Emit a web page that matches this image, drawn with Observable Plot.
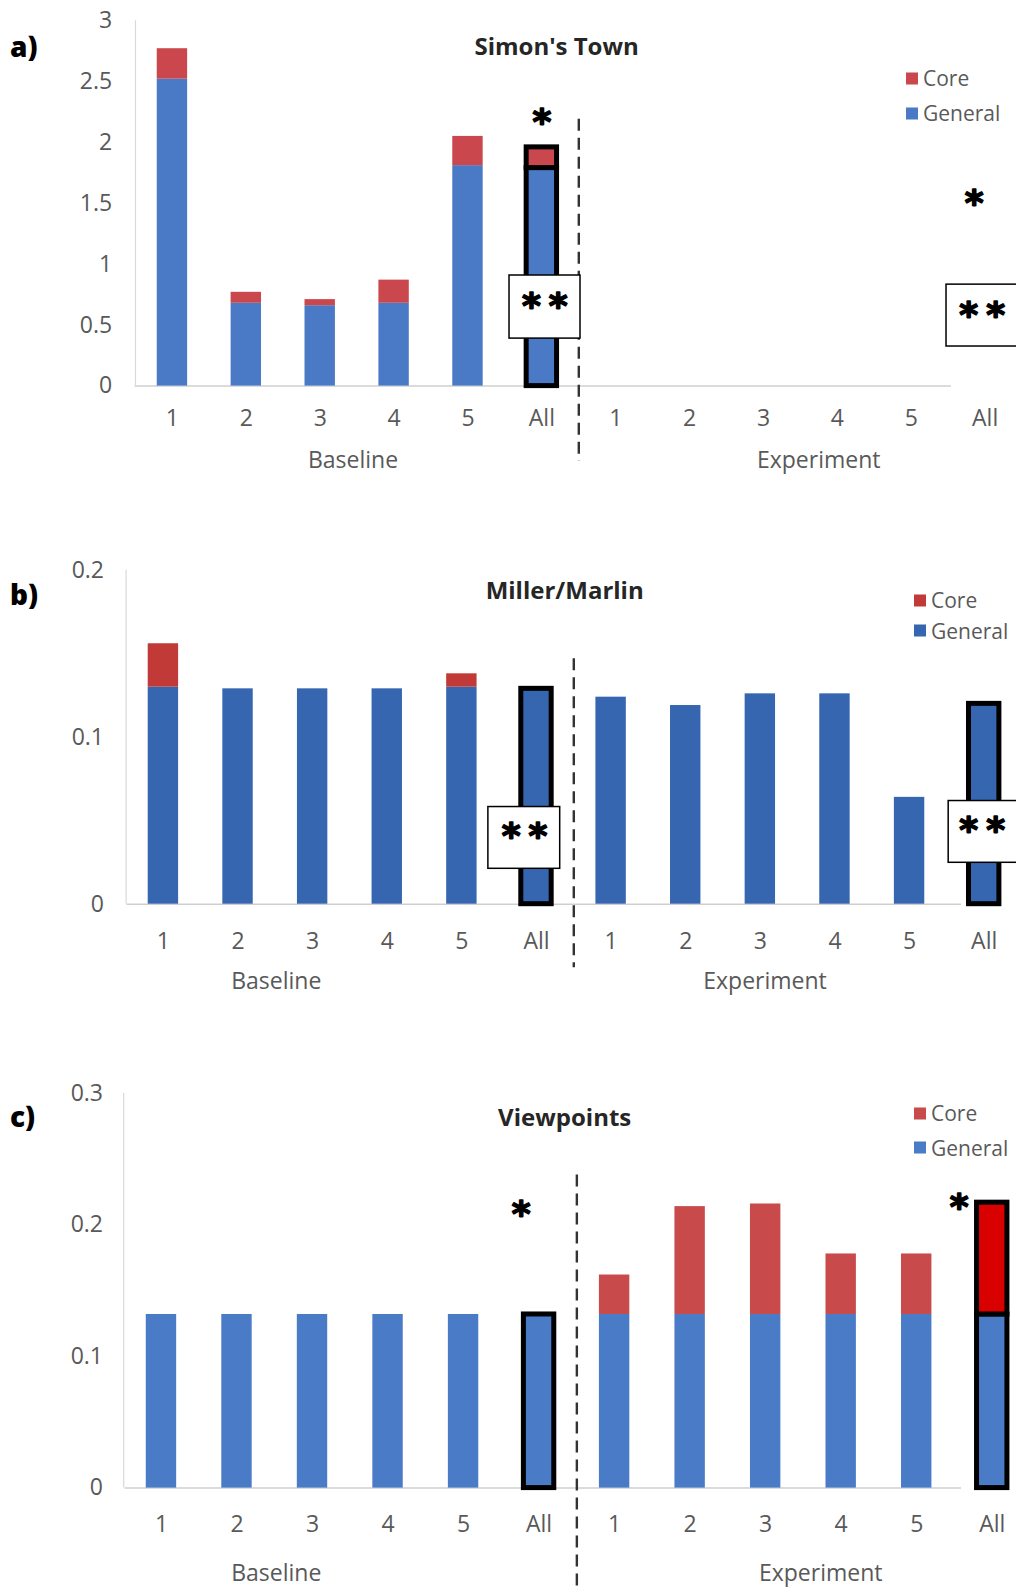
<!DOCTYPE html>
<html><head><meta charset="utf-8">
<script src="https://cdn.jsdelivr.net/npm/d3@7"></script>
<script src="https://cdn.jsdelivr.net/npm/@observablehq/plot@0.6"></script>
<style>
body{margin:0;background:#fff;font-family:"Open Sans",Lato,sans-serif;}
#root{position:relative;width:1016px;height:1587px;overflow:hidden;background:#fff}
.panel{position:absolute;left:0;width:1016px}
.panel svg{position:absolute;left:0;top:0;overflow:visible}
.lbl{position:absolute;white-space:nowrap;transform:translate(-50%,-50%);color:#595959;font-size:23px;line-height:1}
.title{color:#262626;font-weight:bold;font-size:24px}
.letter{transform:translate(0,-50%);color:#000;font-weight:800;font-size:28px}
.leg{position:absolute;white-space:nowrap;transform:translate(0,-50%);color:#595959;font-size:21px;line-height:1;display:flex;align-items:center}
.leg i{display:inline-block;width:12px;height:12px;margin-right:5px}
</style></head><body><div id="root"></div><script>
// ---- data ----
const categories = ["1","2","3","4","5","All"];
const phases = ["Baseline","Experiment"];
const seriesNames = ["Core","General"];
const titles = ["Simon's Town","Miller/Marlin","Viewpoints"];
const panelLetters = ["a)","b)","c)"];

const simonGeneral  = [2.52,0.68,0.66,0.68,1.81,1.79, 0,0,0,0,0,0];
const simonCore     = [0.25,0.09,0.05,0.19,0.24,0.17, 0,0,0,0,0,0];
const millerGeneral = [0.130,0.129,0.129,0.129,0.130,0.129, 0.124,0.119,0.126,0.126,0.064,0.120];
const millerCore    = [0.026,0,0,0,0.008,0, 0,0,0,0,0,0];
const viewGeneral   = [0.132,0.132,0.132,0.132,0.132,0.132, 0.132,0.132,0.132,0.132,0.132,0.132];
const viewCore      = [0,0,0,0,0,0, 0.030,0.082,0.084,0.046,0.046,0.085];

const simonTicks  = [0,0.5,1,1.5,2,2.5,3];
const millerTicks = [0,0.1,0.2];
const viewTicks   = [0,0.1,0.2,0.3];

// significance marks (phase of the "All" bar, value position, label)
const simonStars  = [{phase:"Baseline", y:2.22, label:"*"},{phase:"Experiment", y:1.56, label:"*"}];
const simonBoxes  = [{phase:"Baseline", y1:0.39, y2:0.908, ty:0.65, label:"**"},{phase:"Experiment", y1:0.325, y2:0.833, ty:0.58, label:"**"}];
const millerStars = [];
const millerBoxes = [{phase:"Baseline", y1:0.0212, y2:0.0582, ty:0.0405, label:"**"},{phase:"Experiment", y1:0.0248, y2:0.0618, ty:0.0440, label:"**"}];
const viewStars   = [{phase:"Baseline", y:0.213, label:"*"},{phase:"Experiment", y:0.219, label:"*"}];
const viewBoxes   = [];
const dividerA = [2.19,-0.62], dividerB = [0.147,-0.038], dividerC = [0.238,-0.08];

// ---- layout ----
const keys = phases.flatMap(p => categories.map(c => p + " " + c));
const panels = [
  {general:simonGeneral, core:simonCore, ticks:simonTicks, yMax:3, stars:simonStars, boxes:simonBoxes, divider:dividerA,
   top:0, height:520, mTop:20.2, y0:385.6, mLeft:134.6, axisEnd:951, xRange:[135,1021.6], xPad:24, yPad:23,
   blue:"#4a79c6", red:"#c9474d", starDx:[0,-11], boxIn:[[4.6,-1.7],[-1.7,-12]], boxDx:[7,1],
   title:[556.6,45.5], letterY:45.5, group:[[353,459],[818.7,459]], leg:[906,78,113]},
  {general:millerGeneral, core:millerCore, ticks:millerTicks, yMax:0.2, stars:millerStars, boxes:millerBoxes, divider:dividerB,
   top:520, height:520, mTop:49.8, y0:383.7, mLeft:126.5, axisEnd:961, xRange:[125.6,1021], xPad:28, yPad:23,
   blue:"#3566af", red:"#c13a37", starDx:[], boxIn:[[-10.8,13.6],[1.8,-8]], boxDx:[-8,2],
   title:[564.7,70], letterY:74, group:[[276.3,459.6],[765,459.6]], leg:[914,80,110.5]},
  {general:viewGeneral, core:viewCore, ticks:viewTicks, yMax:0.3, stars:viewStars, boxes:viewBoxes, divider:dividerC, strong:"#d90000",
   top:1040, height:547, mTop:53, y0:447.6, mLeft:124.5, axisEnd:961, xRange:[123.2,1029.5], xPad:28, yPad:22,
   blue:"#4a7bc7", red:"#c94a4a", starDx:[-18,-33], boxIn:[], boxDx:[],
   title:[564.7,77.2], letterY:76.2, group:[[276.3,531.6],[820.7,531.6]], leg:[914,73.2,107.6]}
];

const root = document.getElementById("root");
const starStyle = {fill:"#000", stroke:"#000", strokeWidth:1.6, fontSize:36, fontWeight:"bold", fontFamily:"DejaVu Sans", lineAnchor:"middle"};
panels.forEach((cfg, pi) => {
  const rows = [];
  keys.forEach((k, i) => {
    const [phase, cat] = k.split(" ");
    rows.push({key:k, phase, cat, series:"General", value:cfg.general[i]});
    rows.push({key:k, phase, cat, series:"Core", value:cfg.core[i]});
  });
  const bw = (cfg.xRange[1]-cfg.xRange[0]) / keys.length;
  const inset = (bw - 30.4) / 2;
  const fillOf = d => d.series === "General" ? cfg.blue : (cfg.strong && d.key === "Experiment All" ? cfg.strong : cfg.red);
  const marks = [
    Plot.ruleY([0], {stroke:"#cfcfcf", strokeWidth:1.5}),
    Plot.ruleX([keys[0]], {dx:-bw/2, y1:0, y2:cfg.yMax, stroke:"#d9d9d9", strokeWidth:1.2}),
    Plot.barY(rows.filter(d => d.cat !== "All" && d.value > 0), {x:"key", y:"value", fill:fillOf, insetLeft:inset, insetRight:inset}),
    Plot.barY(rows.filter(d => d.cat === "All" && d.value > 0), {x:"key", y:"value", fill:fillOf, stroke:"#000", strokeWidth:5, insetLeft:inset, insetRight:inset}),
    Plot.ruleX(["Baseline All"], {dx:bw/2, y1:cfg.divider[0], y2:cfg.divider[1], stroke:"#333", strokeWidth:2.4, strokeDasharray:"12,7"})
  ];
  cfg.boxes.forEach((b, j) => {
    marks.push(Plot.barY([b], {x:d => d.phase + " All", y1:"y1", y2:"y2", fill:"#fff", stroke:"#000", strokeWidth:1.5, insetLeft:cfg.boxIn[j][0], insetRight:cfg.boxIn[j][1]}));
    marks.push(Plot.text([b], {x:d => d.phase + " All", y:"ty", text:"label", dx:cfg.boxDx[j], ...starStyle}));
  });
  cfg.stars.forEach((s, j) => {
    marks.push(Plot.text([s], {x:d => d.phase + " All", y:"y", text:"label", dx:cfg.starDx[j], dy:7, ...starStyle}));
  });
  marks.push(Plot.axisY({ticks:cfg.ticks, tickSize:0, tickPadding:cfg.yPad, tickFormat:d => String(d), label:null, fontSize:23}));
  marks.push(Plot.axisX({tickSize:0, tickPadding:cfg.xPad, tickFormat:k => k.split(" ")[1], label:null, fontSize:23}));

  const svg = Plot.plot({
    width:1016, height:cfg.height,
    marginTop:cfg.mTop, marginBottom:cfg.height - cfg.y0, marginLeft:cfg.mLeft, marginRight:1016 - cfg.axisEnd,
    style:{fontFamily:"'Open Sans', Lato, sans-serif", fontSize:"23px", color:"#595959", background:"transparent"},
    x:{type:"band", domain:keys, range:cfg.xRange, padding:0, round:false},
    y:{domain:[0, cfg.yMax]},
    color:{type:"identity"},
    marks
  });
  // spread the double asterisks apart like the original
  svg.querySelectorAll("text").forEach(t => { if (t.textContent === "**") t.setAttribute("letter-spacing", "8"); });
  const div = document.createElement("div");
  div.className = "panel";
  div.style.top = cfg.top + "px";
  div.style.height = cfg.height + "px";
  div.appendChild(svg);
  const add = (cls, text, x, y) => {
    const e = document.createElement("div");
    e.className = cls; e.textContent = text;
    e.style.left = x + "px"; e.style.top = y + "px";
    div.appendChild(e); return e;
  };
  add("lbl title", titles[pi], cfg.title[0], cfg.title[1]);
  add("lbl letter", panelLetters[pi], 10, cfg.letterY);
  phases.forEach((p, j) => add("lbl", p, cfg.group[j][0], cfg.group[j][1]));
  seriesNames.forEach((s, j) => {
    const e = document.createElement("div");
    e.className = "leg";
    e.style.left = cfg.leg[0] + "px"; e.style.top = cfg.leg[1 + j] + "px";
    const sw = document.createElement("i");
    sw.style.background = s === "Core" ? cfg.red : cfg.blue;
    e.appendChild(sw); e.appendChild(document.createTextNode(s));
    div.appendChild(e);
  });
  root.appendChild(div);
});
</script></body></html>
